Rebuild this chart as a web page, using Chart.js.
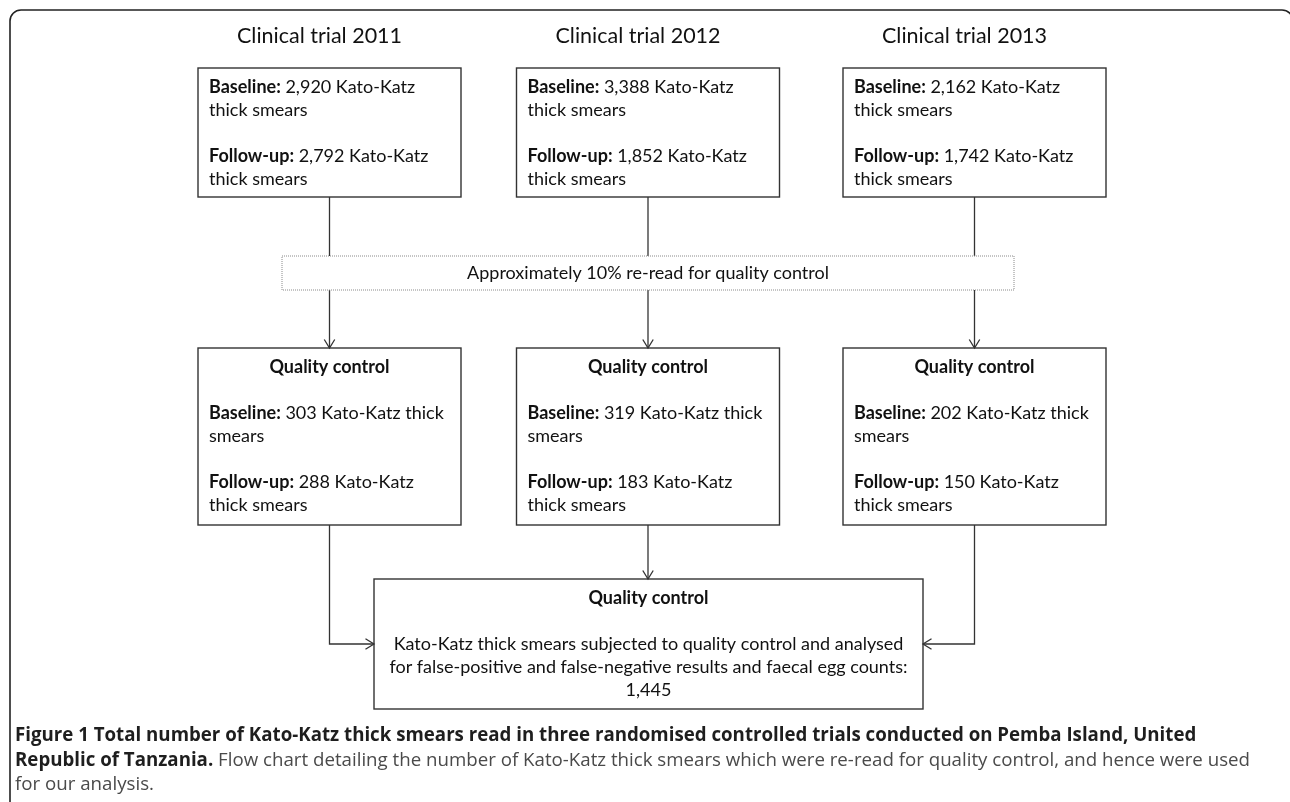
<!DOCTYPE html>
<html>
<head>
<meta charset="utf-8">
<script src="https://cdn.jsdelivr.net/npm/chart.js@4.4.1/dist/chart.umd.min.js"></script>
<style>
html, body { margin: 0; padding: 0; background: #fff; }
#wrap { width: 1290px; height: 802px; position: relative; }
</style>
</head>
<body>
<div id="wrap"><canvas id="flowChart"></canvas></div>
<script>
// counts
const trialYears = [2011, 2012, 2013];
const baselineSmears = [2920, 3388, 2162];
const followUpSmears = [2792, 1852, 1742];
const qcBaselineSmears = [303, 319, 202];
const qcFollowUpSmears = [288, 183, 150];
const qcTotal = 1445;

const rereadLabel = 'Approximately 10% re-read for quality control';
const captionBold = 'Figure 1 Total number of Kato-Katz thick smears read in three randomised controlled trials conducted on Pemba Island, United';
const captionBold2 = 'Republic of Tanzania.';
const captionRest2 = ' Flow chart detailing the number of Kato-Katz thick smears which were re-read for quality control, and hence were used';
const captionRest3 = 'for our analysis.';

// layout in canvas units (x 0..1290, y 0..802)
const colX = [329.5, 648, 974.5];
const boxHalf = 131.5;
const topBox = { y0: 68, y1: 197 };
const rereadBox = { x0: 282, x1: 1014, y0: 256, y1: 290 };
const qcBox = { y0: 348, y1: 525 };
const totalBox = { x0: 374, x1: 923, y0: 579, y1: 709 };
const lineGap = 23;

const boxFont = 'Lato';
const fs = 18;
const fmt = n => n.toLocaleString('en-US');

const flowPlugin = {
    id: 'flow',
    afterDraw(chart) {
        const ctx = chart.ctx;
        const sx = chart.scales.x, sy = chart.scales.y;
        const px = v => sx.getPixelForValue(v);
        const py = v => sy.getPixelForValue(v);

        function rect(x0, y0, x1, y1, dashed) {
            ctx.save();
            if (dashed) {
                ctx.setLineDash([1, 1]);
                ctx.strokeStyle = '#8a8a8a';
                ctx.lineWidth = 1;
            } else {
                ctx.strokeStyle = '#333';
                ctx.lineWidth = 1.4;
            }
            ctx.strokeRect(px(x0), py(y0), px(x1) - px(x0), py(y1) - py(y0));
            ctx.restore();
        }

        function line(pts, head) {
            ctx.save();
            ctx.strokeStyle = '#333';
            ctx.lineWidth = 1.3;
            ctx.beginPath();
            pts.forEach((p, i) => i ? ctx.lineTo(px(p[0]), py(p[1])) : ctx.moveTo(px(p[0]), py(p[1])));
            ctx.stroke();
            if (head) {
                const a = pts[pts.length - 2], b = pts[pts.length - 1];
                const ang = Math.atan2(py(b[1]) - py(a[1]), px(b[0]) - px(a[0]));
                const L = 10, W = 0.55;
                ctx.beginPath();
                ctx.moveTo(px(b[0]) - L * Math.cos(ang - W), py(b[1]) - L * Math.sin(ang - W));
                ctx.lineTo(px(b[0]), py(b[1]));
                ctx.lineTo(px(b[0]) - L * Math.cos(ang + W), py(b[1]) - L * Math.sin(ang + W));
                ctx.stroke();
            }
            ctx.restore();
        }

        // parts: [[text, bold], ...]
        function rich(parts, x, y, align, size, family, colors) {
            ctx.save();
            ctx.textBaseline = 'middle';
            ctx.textAlign = 'left';
            let total = 0;
            const widths = parts.map(p => {
                ctx.font = (p[1] ? 'bold ' : '') + size + 'px "' + family + '"';
                const w = ctx.measureText(p[0]).width;
                total += w;
                return w;
            });
            let cx = px(x);
            if (align === 'center') cx -= total / 2;
            parts.forEach((p, i) => {
                ctx.font = (p[1] ? 'bold ' : '') + size + 'px "' + family + '"';
                ctx.fillStyle = colors ? colors[p[1] ? 0 : 1] : '#111';
                ctx.fillText(p[0], cx, py(y));
                cx += widths[i];
            });
            ctx.restore();
        }

        // outer frame
        ctx.save();
        ctx.strokeStyle = '#222';
        ctx.lineWidth = 1.6;
        ctx.beginPath();
        ctx.roundRect(px(10), py(10), px(1293) - px(10), py(830) - py(10), 11);
        ctx.stroke();
        ctx.restore();

        trialYears.forEach((yr, i) => {
            const cx = colX[i];
            const x0 = cx - boxHalf, x1 = cx + boxHalf;
            rich([['Clinical trial ' + yr, false]], cx - 10, 36, 'center', 21.5, boxFont);

            // trial box
            rect(x0, topBox.y0, x1, topBox.y1);
            let ty = topBox.y0 + 19;
            rich([['Baseline:', true], [' ' + fmt(baselineSmears[i]) + ' Kato-Katz', false]], x0 + 11, ty, 'left', fs, boxFont);
            rich([['thick smears', false]], x0 + 11, ty + lineGap, 'left', fs, boxFont);
            rich([['Follow-up:', true], [' ' + fmt(followUpSmears[i]) + ' Kato-Katz', false]], x0 + 11, ty + 3 * lineGap, 'left', fs, boxFont);
            rich([['thick smears', false]], x0 + 11, ty + 4 * lineGap, 'left', fs, boxFont);

            // connectors through the re-read band
            line([[cx, topBox.y1], [cx, rereadBox.y0]]);
            line([[cx, rereadBox.y1], [cx, qcBox.y0]], true);

            // quality control box
            rect(x0, qcBox.y0, x1, qcBox.y1);
            ty = qcBox.y0 + 19;
            rich([['Quality control', true]], cx, ty, 'center', fs, boxFont);
            rich([['Baseline:', true], [' ' + fmt(qcBaselineSmears[i]) + ' Kato-Katz thick', false]], x0 + 11, ty + 2 * lineGap, 'left', fs, boxFont);
            rich([['smears', false]], x0 + 11, ty + 3 * lineGap, 'left', fs, boxFont);
            rich([['Follow-up:', true], [' ' + fmt(qcFollowUpSmears[i]) + ' Kato-Katz', false]], x0 + 11, ty + 5 * lineGap, 'left', fs, boxFont);
            rich([['thick smears', false]], x0 + 11, ty + 6 * lineGap, 'left', fs, boxFont);
        });

        // re-read band
        rect(rereadBox.x0, rereadBox.y0, rereadBox.x1, rereadBox.y1, true);
        rich([[rereadLabel, false]], (rereadBox.x0 + rereadBox.x1) / 2, (rereadBox.y0 + rereadBox.y1) / 2, 'center', fs, boxFont);

        // arrows into the total box
        const arrowY = totalBox.y0 + 19 + 2 * lineGap;
        line([[colX[0], qcBox.y1], [colX[0], arrowY], [totalBox.x0, arrowY]], true);
        line([[colX[1], qcBox.y1], [colX[1], totalBox.y0]], true);
        line([[colX[2], qcBox.y1], [colX[2], arrowY], [totalBox.x1, arrowY]], true);

        // total box
        rect(totalBox.x0, totalBox.y0, totalBox.x1, totalBox.y1);
        const mid = (totalBox.x0 + totalBox.x1) / 2;
        let ty = totalBox.y0 + 19;
        rich([['Quality control', true]], mid, ty, 'center', fs, boxFont);
        rich([['Kato-Katz thick smears subjected to quality control and analysed', false]], mid, ty + 2 * lineGap, 'center', fs, boxFont);
        rich([['for false-positive and false-negative results and faecal egg counts:', false]], mid, ty + 3 * lineGap, 'center', fs, boxFont);
        rich([[fmt(qcTotal), false]], mid, ty + 4 * lineGap, 'center', fs, boxFont);

        // caption
        const capCol = ['#1e1e1e', '#4a4a4a'];
        rich([[captionBold, true]], 15, 736, 'left', 18.7, 'Open Sans', capCol);
        rich([[captionBold2, true], [captionRest2, false]], 15, 761, 'left', 18.7, 'Open Sans', capCol);
        rich([[captionRest3, false]], 15, 785, 'left', 18.7, 'Open Sans', capCol);
    }
};

new Chart(document.getElementById('flowChart').getContext('2d'), {
    type: 'scatter',
    data: { datasets: [{ data: [] }] },
    options: {
        responsive: true,
        maintainAspectRatio: false,
        animation: false,
        layout: { padding: 0 },
        plugins: { legend: { display: false }, tooltip: { enabled: false } },
        scales: {
            x: { type: 'linear', min: 0, max: 1290, display: false },
            y: { type: 'linear', min: 0, max: 802, reverse: true, display: false }
        }
    },
    plugins: [flowPlugin]
});
</script>
</body>
</html>
